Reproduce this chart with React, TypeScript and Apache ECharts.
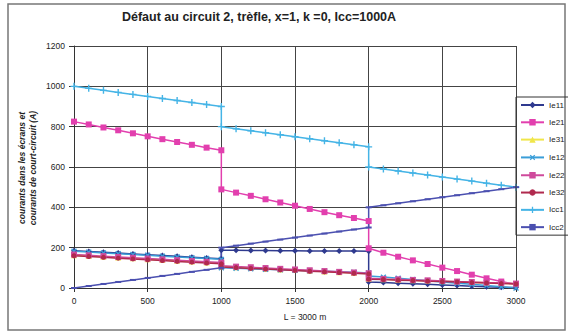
import React, { useEffect, useRef } from "react";
import * as echarts from "echarts";

const distances = [
  0, 100, 200, 300, 400, 500, 600, 700, 800, 900, 1000,
  1000, 1100, 1200, 1300, 1400, 1500, 1600, 1700, 1800, 1900, 2000,
  2000, 2100, 2200, 2300, 2400, 2500, 2600, 2700, 2800, 2900, 3000,
];

const ie11 = [185, 181, 177, 173, 169, 165, 161, 157, 153, 149, 145, 187, 187, 186, 186, 185, 185, 184, 184, 183, 183, 182, 30, 27, 24, 21, 18, 15, 12, 9, 6, 4, 2];
const ie21 = [825, 811, 796, 782, 767, 752, 738, 724, 710, 696, 683, 489, 473, 457, 440, 424, 408, 392, 376, 361, 347, 332, 197, 175, 155, 137, 119, 101, 84, 66, 48, 32, 18];
const ie31 = [163, 159, 155, 151, 147, 143, 139, 135, 131, 127, 123, 106, 103, 99, 96, 92, 89, 85, 82, 78, 75, 72, 46, 44, 41, 39, 36, 34, 31, 29, 26, 24, 21];
const ie12 = [182, 178, 174, 170, 166, 162, 158, 154, 150, 146, 142, 100, 98, 95, 93, 90, 88, 85, 83, 80, 78, 75, 60, 54, 48, 42, 36, 30, 24, 18, 12, 6, 0];
const ie22 = [166, 162, 158, 154, 150, 146, 142, 138, 134, 130, 126, 110, 106, 103, 99, 95, 92, 88, 84, 80, 77, 73, 48, 45, 43, 40, 38, 35, 32, 30, 27, 25, 22];
const ie32 = [160, 156, 152, 148, 144, 140, 136, 132, 128, 124, 120, 104, 101, 97, 94, 90, 87, 83, 80, 77, 73, 70, 44, 42, 39, 37, 34, 32, 30, 27, 25, 22, 20];
const icc1 = [1000, 990, 980, 970, 960, 950, 940, 930, 920, 910, 900, 800, 790, 780, 770, 760, 750, 740, 730, 720, 710, 700, 600, 590, 580, 570, 560, 550, 540, 530, 520, 510, 500];
const icc2 = [0, 10, 20, 30, 40, 50, 60, 70, 80, 90, 100, 200, 210, 220, 230, 240, 250, 260, 270, 280, 290, 300, 400, 410, 420, 430, 440, 450, 460, 470, 480, 490, 500];

const seriesNames = ["Ie11", "Ie21", "Ie31", "Ie12", "Ie22", "Ie32", "Icc1", "Icc2"];
const seriesValues = [ie11, ie21, ie31, ie12, ie22, ie32, icc1, icc2];

const titleText = "Défaut au circuit 2, trèfle, x=1, k =0, Icc=1000A";
const yTitle = "courants dans les écrans et\ncourants de court-circuit (A)";
const xTitle = "L = 3000 m";

const PLUS = "path://M4,0H6V4H10V6H6V10H4V6H0V4H4Z";
const DASH = "path://M0,0H10V3H0Z";

const styles = [
  { color: "#2f3a8f", symbol: "diamond", size: 6, rotate: 0 },
  { color: "#e23fae", symbol: "rect", size: 6, rotate: 0 },
  { color: "#f0e64a", symbol: "triangle", size: 6, rotate: 0 },
  { color: "#3a9ed8", symbol: PLUS, size: 7, rotate: 45 },
  { color: "#cf4a9c", symbol: "rect", size: 6, rotate: 0 },
  { color: "#b02a4e", symbol: "circle", size: 5, rotate: 0 },
  { color: "#45b4e6", symbol: PLUS, size: 7, rotate: 0 },
  { color: "#4b50b0", symbol: DASH, size: [6, 2], rotate: 0 },
];

export default function App() {
  const ref = useRef<HTMLDivElement>(null);
  useEffect(() => {
    if (!ref.current) return;
    const chart = echarts.init(ref.current, undefined, { renderer: "svg" });
    const font = "'Liberation Sans', Arial, sans-serif";
    chart.setOption({
      animation: false,
      backgroundColor: "#ffffff",
      textStyle: { fontFamily: font },
      grid: { left: 74, right: 52, top: 46, bottom: 45 },
      legend: {
        orient: "vertical",
        left: 516,
        top: 97,
        padding: [4, 20, 4, 4],
        itemWidth: 23,
        itemHeight: 8,
        itemGap: 9.3,
        borderColor: "#333",
        borderWidth: 1,
        textStyle: { fontSize: 8, color: "#222", fontFamily: font },
        data: seriesNames,
      },
      xAxis: {
        type: "value",
        min: 0,
        max: 3000,
        interval: 500,
        axisLine: { show: true, lineStyle: { color: "#333", width: 1 } },
        axisTick: { show: true, length: 4, lineStyle: { color: "#333" } },
        axisLabel: { fontSize: 8.5, color: "#222", margin: 8, fontFamily: font, formatter: (v: number) => String(v) },
        splitLine: { show: true, lineStyle: { color: "#444", width: 1 } },
      },
      yAxis: {
        type: "value",
        min: 0,
        max: 1200,
        interval: 200,
        axisLine: { show: true, lineStyle: { color: "#333", width: 1 } },
        axisTick: { show: true, length: 5, lineStyle: { color: "#333" } },
        axisLabel: { fontSize: 8.5, color: "#222", margin: 9, fontFamily: font, formatter: (v: number) => String(v) },
        splitLine: { show: true, lineStyle: { color: "#444", width: 1 } },
      },
      graphic: [
        {
          type: "rect",
          shape: { x: 8, y: 4, width: 557, height: 326 },
          style: { fill: "none", stroke: "#777", lineWidth: 1.5 },
          silent: true,
        },
        {
          type: "text",
          x: 259,
          y: 17,
          style: {
            text: titleText,
            fontSize: 12.5,
            fontWeight: "bold",
            fontFamily: font,
            fill: "#222",
            textAlign: "center",
            textVerticalAlign: "middle",
          },
        },
        {
          type: "text",
          x: 27.5,
          y: 168,
          rotation: Math.PI / 2,
          style: {
            text: yTitle,
            fontSize: 8.5,
            fontWeight: "bold",
            fontStyle: "italic",
            fontFamily: font,
            fill: "#222",
            lineHeight: 11,
            textAlign: "center",
            textVerticalAlign: "middle",
          },
        },
        {
          type: "text",
          x: 305,
          y: 317,
          style: {
            text: xTitle,
            fontSize: 8.5,
            fontFamily: font,
            fill: "#222",
            textAlign: "center",
            textVerticalAlign: "middle",
          },
        },
      ],
      series: seriesNames.map((name, i) => ({
        name,
        type: "line",
        data: distances.map((d, j) => [d, seriesValues[i][j]]),
        symbol: styles[i].symbol,
        symbolSize: styles[i].size,
        symbolRotate: styles[i].rotate,
        showAllSymbol: true,
        lineStyle: { color: styles[i].color, width: 1.5 },
        itemStyle: { color: styles[i].color },
      })),
    });
    return () => chart.dispose();
  }, []);
  return (
    <div
      ref={ref}
      style={{ position: "absolute", left: 0, top: 0, width: 568, height: 333 }}
    />
  );
}
